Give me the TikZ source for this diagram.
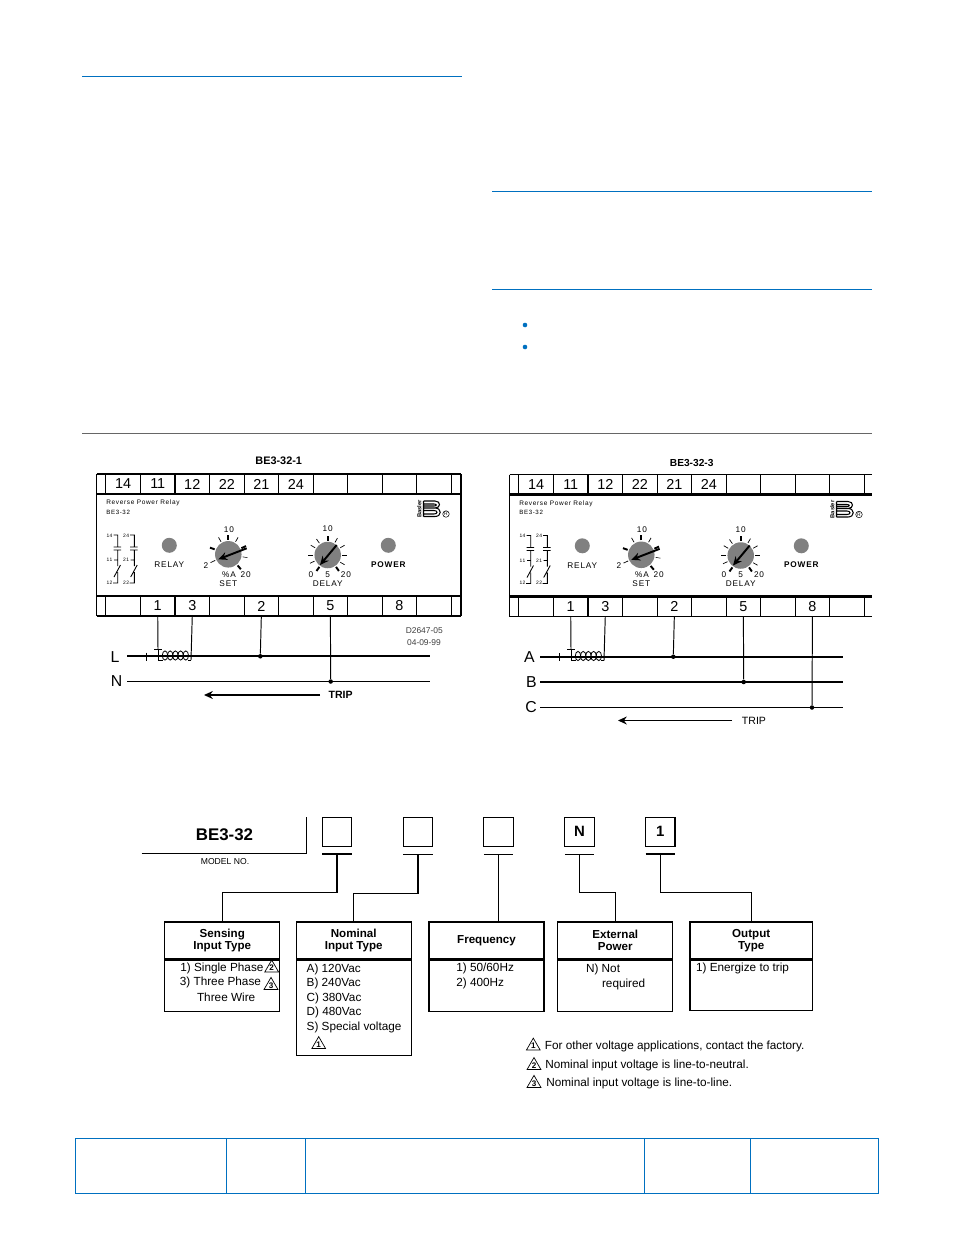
\documentclass[tikz,border=0pt]{standalone}
\usepackage{fontspec}
\setmainfont{Liberation Sans}
\newfontfamily\panelfont[LetterSpace=10]{Liberation Sans}
\usetikzlibrary{arrows.meta, positioning, shapes.geometric}

\definecolor{ruleblue}{RGB}{0,112,192}
\definecolor{knobgray}{RGB}{128,128,128}

\tikzset{
  every node/.style={inner sep=0pt},
  txt/.style={font=\fontsize{6.7}{8}\selectfont},
  lefttxt/.style={txt, anchor=west},
  headtxt/.style={draw, line width=0.7pt, align=center, minimum height=0.74cm,
    font=\bfseries\fontsize{6.6}{6.9}\selectfont},
  bodybox/.style={draw, line width=0.7pt, below=0pt of #1},
  termbox/.style={draw, line width=0.6pt, minimum width=0.69cm, minimum height=0.40cm,
    font=\fontsize{8.2}{9}\selectfont},
  paneltxt/.style={font=\panelfont\fontsize{4.7}{5}\selectfont},
  choicebox/.style={draw, line width=0.7pt, minimum width=0.59cm, minimum height=0.58cm,
    font=\bfseries\fontsize{8.5}{9}\selectfont},
  warn/.style={draw, line width=0.4pt, regular polygon, regular polygon sides=3,
    minimum size=0.31cm, font=\bfseries\fontsize{4.6}{5}\selectfont},
  wire/.style={line width=0.55pt},
  dot/.style={circle, fill=black, minimum size=0.09cm},
  blueline/.style={ruleblue, line width=0.4pt},
}

% One relay face, #1 is where its strips end on the right
\newcommand{\relayface}[1]{
  % Strips
  \foreach \i/\t in {1/14, 2/11, 3/12, 4/22, 5/21, 6/24, 7/, 8/, 9/, 10/}
    \node[termbox] (up\i) at ({123.2+34.53*(\i-1)},484) {\t};
  \foreach \i/\t in {1/, 2/1, 3/3, 4/, 5/2, 6/, 7/5, 8/, 9/8, 10/}
    \node[termbox] (lo\i) at ({123.2+34.53*(\i-1)},606) {\t};
  \draw[line width=0.9pt] (96.5,474) -- (#1,474) (96.5,616) -- (#1,616);
  \draw[line width=1.2pt] (96.5,494) -- (#1,494) (96.5,596) -- (#1,596);
  \draw[line width=0.9pt] (96.5,474) -- (96.5,616);

  % Texts
  \node[paneltxt, anchor=west, font=\panelfont\fontsize{3.7}{4}\selectfont] (name) at (106,503) {Reverse Power Relay};
  \node[paneltxt, anchor=west, font=\panelfont\fontsize{3.5}{4}\selectfont] (model) at (106,512) {BE3-32};
  \node[paneltxt] (relay) at (169.3,564.7) {RELAY};
  \node[paneltxt, font=\panelfont\bfseries\fontsize{4.7}{5}\selectfont] (power) at (388.3,564.5) {POWER};
  \path[paneltxt]
    (229,529.3) node (s10) {10}
    (206,565.3) node (s2) {2}
    (229,574.3) node (spc) {\%A}
    (245.7,574.3) node (s20) {20}
    (228.3,583.3) node (set) {SET}
    (327.7,528.7) node (d10) {10}
    (311,574.3) node (d0) {0}
    (327.7,574.3) node (d5) {5}
    (346,574.3) node (d20) {20}
    (327.7,583.3) node (delay) {DELAY};

  % Lamps
  \node[circle, fill=knobgray, minimum size=0.30cm] (relaylamp) at (169.3,545.3) {};
  \node[circle, fill=knobgray, minimum size=0.30cm] (powerlamp) at (388.3,545.3) {};

  % Knobs
  \node[circle, fill=knobgray, minimum size=0.53cm] (setknob) at (228.3,554.3) {};
  \node[circle, fill=knobgray, minimum size=0.53cm] (delayknob) at (327.7,555) {};
  \foreach \a/\w in {-90/1.1, -60/0.4, -25/1.1, 10/0.3, 50/1.1, -120/0.4, -160/1.1, 155/0.4}
    \draw[line width=\w pt] (228.3,554.3) ++(\a:14.5) -- ++(\a:5);
  \foreach \a/\w in {-90/1.1, -60/0.4, -30/0.4, 0/0.3, 30/0.4, 55/1.1, -125/0.4, -150/0.4, 180/0.3, 155/0.4, 125/1.1}
    \draw[line width=\w pt] (327.7,555) ++(\a:14.5) -- ++(\a:5);
  \draw[line width=1.1pt, -{Stealth[length=5pt, width=4.5pt]}] (246.7,548.3) -- (218.3,559.3);
  \draw[line width=1.1pt, -{Stealth[length=5pt, width=4.5pt]}] (336.7,545) -- (320,565);

  % Contacts
  \foreach \x/\p/\q/\r in {0/14/11/12, 16.7/24/21/22} {
    \begin{scope}[xshift=\x*0.02cm]
      \draw[line width=0.5pt] (113.5,535) -- (117.7,535) -- (117.7,547) (113.5,547) -- (121,547)
        (113.5,550) -- (121,550) (117.7,550) -- (117.7,566) (114,560) -- (117.7,560)
        (114,577) -- (120.5,565) (117.7,572) -- (117.7,583) -- (113,583);
    \end{scope}
    \path[font=\panelfont\fontsize{2.8}{3}\selectfont]
      ({109.5+\x},535.5) node (c\p) {\p}
      ({109.5+\x},560) node (c\q) {\q}
      ({109.5+\x},582.5) node (c\r) {\r};
  }

  % Logo
  \draw[line width=0.6pt] (423.5,501) -- (435,501) .. controls (441,501) and (441,508) .. (435,508) -- (423.5,508)
    (435,508) .. controls (442,508) and (442,516.5) .. (435,516.5) -- (423.5,516.5)
    (423.5,504) -- (434,504) .. controls (437,504) and (437,506) .. (434,506) -- (423.5,506)
    (423.5,510.5) -- (434,510.5) .. controls (438,510.5) and (438,514) .. (434,514) -- (423.5,514)
    (423.5,501) -- (423.5,516.5);
  \node[rotate=90, font=\bfseries\fontsize{3.3}{4}\selectfont] (brand) at (419.3,509) {Basler};
  \node[circle, draw, line width=0.3pt, minimum size=0.13cm, font=\fontsize{2.8}{3}\selectfont] (regmark) at (446,514) {R};
}

% Coil between two leads on a line
\newcommand{\coil}[1]{
  \draw[wire] (158,660) -- (162.5,660);
  \foreach \i in {0,...,4}
    \draw[line width=0.45pt] ({165+\i*5.2},655.5) ellipse [x radius=2.7, y radius=4.6];
  \draw[wire] (188,660) -- (191,660);
  \draw[wire] (146,652.5) -- (146,660.5);
  \draw[wire] (154,649) -- (162,649);
  \draw[wire] (158,649) -- (158,660);
}

\begin{document}
\begin{tikzpicture}[x=0.02cm, y=-0.02cm]
\path[use as bounding box, fill=white] (0,0) rectangle (954,1235);

% Rules of the page
\draw[blueline] (82,76) -- (462,76) (492,191) -- (872,191) (492,289) -- (872,289);
\draw[black!60, line width=0.4pt] (82,433) -- (872,433);
\fill[ruleblue] (525,325) circle [radius=2.3] (525,347) circle [radius=2.3];

% First relay
\node[font=\bfseries\fontsize{6.2}{7}\selectfont] (titleone) at (278.7,461) {BE3-32-1};
\begin{scope}[name prefix=one-]
  \relayface{461}
  \draw[line width=0.9pt] (461,474) -- (461,616);
  \coordinate (lineL) at (127,656.3);
  \coordinate (lineLend) at (430,656.3);
  \coordinate (lineN) at (127,681.5);
  \coordinate (lineNend) at (430,681.5);
  \node[dot] (dotL) at (260.3,656.3) {};
  \node[dot] (dotN) at (330.7,681.5) {};
  \draw[line width=1.2pt] (lineL) -- (lineLend);
  \draw[wire] (lineN) -- (lineNend);
  \draw[wire] (lo2.south) -- (158,649);
  \draw[wire] (lo3.south) -- (191,660);
  \draw[wire] (lo5.south) -- (dotL);
  \draw[wire] (lo7.south) -- (dotN);
  \coil{}
  \node[font=\fontsize{9}{10}\selectfont] (nameL) at (115,656.7) {L};
  \node[font=\fontsize{9}{10}\selectfont] (nameN) at (116.5,681.5) {N};
  \coordinate (tripfrom) at (320,695);
  \coordinate (tripto) at (204,695);
  \draw[line width=1pt, -{Stealth[length=5pt, width=4.5pt]}] (tripfrom) -- (tripto);
  \node[font=\bfseries\fontsize{6}{7}\selectfont] (trip) at (340.7,695) {TRIP};
  \node[font=\fontsize{4.8}{6}\selectfont, text=black!75] (drawno) at (424.3,631) {D2647-05};
  \node[font=\fontsize{4.8}{6}\selectfont, text=black!75] (drawdate) at (424,642.5) {04-09-99};
\end{scope}

% Second relay
\node[font=\bfseries\fontsize{5.8}{7}\selectfont] (titlethree) at (691.7,462.7) {BE3-32-3};
\begin{scope}[shift={(413,0.5)}, name prefix=three-]
  \relayface{459}
  \coordinate (lineA) at (127,656.2);
  \coordinate (lineAend) at (429.7,656.2);
  \coordinate (lineB) at (127,681.5);
  \coordinate (lineBend) at (429.7,681.5);
  \coordinate (lineC) at (127,707);
  \coordinate (lineCend) at (429.7,707);
  \node[dot] (dotA) at (260.3,656.2) {};
  \node[dot] (dotB) at (330.7,681.5) {};
  \node[dot] (dotC) at (399,707) {};
  \draw[line width=0.9pt] (lineA) -- (lineAend);
  \draw[line width=1pt] (lineB) -- (lineBend);
  \draw[line width=1pt] (lineC) -- (lineCend);
  \draw[wire] (lo2.south) -- (158,649);
  \draw[wire] (lo3.south) -- (191,660);
  \draw[wire] (lo5.south) -- (dotA);
  \draw[wire] (lo7.south) -- (dotB);
  \draw[wire] (lo9.south) -- (dotC);
  \coil{}
  \node[font=\fontsize{9}{10}\selectfont] (nameA) at (116.5,656.5) {A};
  \node[font=\fontsize{9}{10}\selectfont] (nameB) at (118.3,681.5) {B};
  \node[font=\fontsize{9}{10}\selectfont] (nameC) at (118,707) {C};
  \coordinate (tripfrom) at (319,720);
  \coordinate (tripto) at (205,720);
  \draw[line width=0.8pt, -{Stealth[length=5pt, width=4.5pt]}] (tripfrom) -- (tripto);
  \node[font=\fontsize{6}{7}\selectfont] (trip) at (341,720) {TRIP};
\end{scope}

% Model number
\node[font=\bfseries\fontsize{9.6}{11}\selectfont] (model) at (224.5,835) {BE3-32};
\node[font=\fontsize{4.9}{6}\selectfont] (modelno) at (225,861.7) {MODEL NO.};
\coordinate (modelleft) at (141.5,853.7);
\coordinate (modelcorner) at (306.7,853.7);
\coordinate (modeltop) at (306.7,817);
\draw[line width=0.7pt] (modelleft) -- (modelcorner) -- (modeltop);

% Choice squares
\path
(337,831.7) node[choicebox] (sqsense) {}
(418,831.7) node[choicebox] (sqnom) {}
(498.5,831.7) node[choicebox] (sqfreq) {}
(579.5,831.7) node[choicebox] (sqext) {N}
(660.3,831.7) node[choicebox] (sqout) {1}
;
\foreach \s/\w in {sense/1.1, nom/0.6, freq/0.6, ext/0.6, out/1.1} {
  \coordinate (ul\s l) at ([xshift=-14.7*0.02cm, yshift=-7.4*0.02cm]sq\s.south);
  \coordinate (ul\s r) at ([xshift=14.7*0.02cm, yshift=-7.4*0.02cm]sq\s.south);
  \coordinate (ul\s) at ([yshift=-7.4*0.02cm]sq\s.south);
  \draw[line width=\w pt] (ul\s l) -- (ul\s r);
}

% Blocks
\node[headtxt, minimum width=2.30cm] (sense) at (222.3,940.5) {Sensing\\Input Type};
\node[bodybox=sense, minimum width=2.30cm, minimum height=1.02cm] (sensebody) {};
\node[headtxt, minimum width=2.30cm] (nom) at (353.7,940.5) {Nominal\\Input Type};
\node[bodybox=nom, minimum width=2.30cm, minimum height=1.91cm] (nombody) {};
\node[headtxt, minimum width=2.30cm] (freq) at (486.5,940.5) {Frequency};
\node[bodybox=freq, minimum width=2.30cm, minimum height=1.02cm] (freqbody) {};
\node[headtxt, minimum width=2.30cm] (ext) at (615.3,940.5) {External\\Power};
\node[bodybox=ext, minimum width=2.30cm, minimum height=1.02cm] (extbody) {};
\node[headtxt, minimum width=2.45cm] (out) at (751.2,940.5) {Output\\Type};
\node[bodybox=out, minimum width=2.45cm, minimum height=1.00cm] (outbody) {};

% Connectors
\draw[line width=0.8pt] (ulsense) -- ++(0,38) -| (sense.north);
\draw[line width=0.8pt] (ulnom) -- ++(0,39) -| (nom.north);
\draw[line width=0.8pt] (ulfreq) -- (freq.north -| ulfreq);
\draw[line width=0.8pt] (ulext) -- ++(0,38) -| (ext.north);
\draw[line width=0.8pt] (ulout) -- ++(0,38) -| (out.north);

% Block texts
\path
(180,968) node[lefttxt] (s1) {1) Single Phase}
(179.5,982.7) node[lefttxt] (s2) {3) Three Phase}
(196.7,997) node[lefttxt] (s3) {Three Wire}
(306.3,969.5) node[lefttxt] (n1) {A) 120Vac}
(306.3,983.5) node[lefttxt] (n2) {B) 240Vac}
(306.3,998) node[lefttxt] (n3) {C) 380Vac}
(306.3,1012.5) node[lefttxt] (n4) {D) 480Vac}
(306.3,1027) node[lefttxt] (n5) {S) Special voltage}
(456,968.7) node[lefttxt] (f1) {1) 50/60Hz}
(456,983) node[lefttxt] (f2) {2) 400Hz}
(585.7,969) node[lefttxt] (e1) {N) Not}
(601.7,984) node[lefttxt] (e2) {required}
(695.7,968) node[lefttxt] (o1) {1) Energize to trip}
;

% Warning marks
\node[warn] (w2) at (271.7,968) {2};
\node[warn] (w3) at (271,985.5) {3};
\node[warn] (w1) at (318.7,1044.5) {1};
\node[warn] (note1) at (533.3,1046) {1};
\node[warn] (note2) at (534,1065.5) {2};
\node[warn] (note3) at (534,1083.5) {3};
\node[lefttxt] (notetxt1) at (544.5,1046.5) {For other voltage applications, contact the factory.};
\node[lefttxt] (notetxt2) at (545,1065.5) {Nominal input voltage is line-to-neutral.};
\node[lefttxt] (notetxt3) at (546,1083.5) {Nominal input voltage is line-to-line.};

% Table at the foot
\draw[blueline] (75,1138) rectangle (878,1193);
\foreach \x in {226, 305, 644, 750}
  \draw[blueline] (\x,1138) -- (\x,1193);

\end{tikzpicture}
\end{document}
